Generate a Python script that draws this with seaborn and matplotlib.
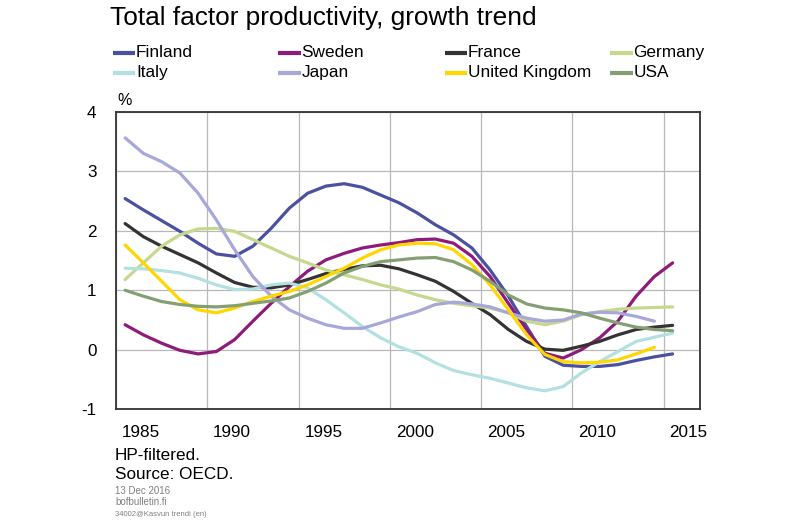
import numpy as np
import pandas as pd
import matplotlib.pyplot as plt
import matplotlib.transforms as mtransforms
from matplotlib.lines import Line2D
import seaborn as sns

sns.set_theme(style="white")
plt.rcParams['font.family'] = ['Liberation Sans', 'DejaVu Sans']
plt.rcParams['axes.unicode_minus'] = False
plt.rcParams['text.color'] = 'black'

years = list(range(1985, 2016))

finland = [2.54, 2.35, 2.17, 1.99, 1.79, 1.61, 1.57, 1.74, 2.04, 2.38, 2.63, 2.75, 2.79, 2.73, 2.60,
           2.47, 2.30, 2.10, 1.93, 1.71, 1.34, 0.90, 0.39, -0.11, -0.26, -0.28, -0.28, -0.25, -0.18, -0.12, -0.07]
sweden = [0.42, 0.25, 0.11, -0.01, -0.07, -0.03, 0.17, 0.48, 0.78, 1.06, 1.32, 1.51, 1.62, 1.71, 1.76,
          1.80, 1.85, 1.86, 1.79, 1.57, 1.23, 0.78, 0.34, -0.06, -0.14, 0.00, 0.20, 0.48, 0.90, 1.23, 1.46]
france = [2.12, 1.90, 1.74, 1.60, 1.46, 1.29, 1.13, 1.05, 1.04, 1.09, 1.18, 1.28, 1.35, 1.41, 1.42,
          1.36, 1.26, 1.15, 0.98, 0.78, 0.59, 0.34, 0.14, 0.01, -0.01, 0.06, 0.14, 0.25, 0.34, 0.38, 0.41]
germany = [1.18, 1.46, 1.74, 1.93, 2.03, 2.04, 1.99, 1.85, 1.71, 1.57, 1.46, 1.34, 1.26, 1.18, 1.09,
           1.02, 0.92, 0.84, 0.78, 0.74, 0.70, 0.62, 0.48, 0.42, 0.48, 0.59, 0.64, 0.68, 0.70, 0.71, 0.72]
italy = [1.37, 1.36, 1.33, 1.29, 1.20, 1.09, 1.01, 1.02, 1.09, 1.12, 1.04, 0.84, 0.62, 0.39, 0.20,
         0.05, -0.06, -0.22, -0.35, -0.42, -0.48, -0.56, -0.64, -0.69, -0.62, -0.39, -0.20, -0.03, 0.14, 0.21, 0.28]
japan = [3.56, 3.30, 3.16, 2.97, 2.63, 2.18, 1.68, 1.23, 0.90, 0.67, 0.53, 0.42, 0.36, 0.36, 0.45,
         0.55, 0.64, 0.76, 0.80, 0.77, 0.72, 0.62, 0.53, 0.48, 0.50, 0.60, 0.63, 0.62, 0.56, 0.48]
uk = [1.76, 1.46, 1.15, 0.84, 0.67, 0.62, 0.70, 0.81, 0.90, 0.98, 1.09, 1.23, 1.37, 1.54, 1.68,
      1.76, 1.79, 1.78, 1.68, 1.43, 1.09, 0.67, 0.25, -0.08, -0.20, -0.22, -0.21, -0.17, -0.07, 0.04]
usa = [1.00, 0.90, 0.81, 0.76, 0.73, 0.72, 0.74, 0.78, 0.82, 0.87, 0.98, 1.12, 1.29, 1.40, 1.48,
       1.51, 1.54, 1.55, 1.48, 1.34, 1.15, 0.92, 0.77, 0.70, 0.67, 0.62, 0.53, 0.45, 0.38, 0.34, 0.32]

countries = ['Finland', 'Sweden', 'France', 'Germany', 'Italy', 'Japan', 'United Kingdom', 'USA']
series = [finland, sweden, france, germany, italy, japan, uk, usa]
colors = ['#4a51a0', '#8e1b7b', '#333333', '#c6d88e', '#b3e0e0', '#a7a8d9', '#ffd600', '#84a073']
palette = dict(zip(countries, colors))

rows = []
for name, vals in zip(countries, series):
    for yr, v in zip(years, vals):
        rows.append({'year': yr + 0.5, 'value': v, 'country': name})
df = pd.DataFrame(rows)

fig = plt.figure(figsize=(8, 5.22), dpi=100)
ax = fig.add_axes([0.145, 0.216, 0.73, 0.57])

sns.lineplot(data=df, x='year', y='value', hue='country', palette=palette,
             hue_order=countries, linewidth=2.3, legend=False, ax=ax)

ax.set_xlim(1985, 2017)
ax.set_ylim(-1, 4)
ax.set_xticks(list(range(1985, 2016, 5)))
ax.set_yticks(list(range(-1, 5)))
ax.set_xlabel('')
ax.set_ylabel('')
ax.grid(True, color='#b8b8b8', lw=0.9)
for s in ax.spines.values():
    s.set_color('#333333')
    s.set_linewidth(1.3)
ax.tick_params(axis='both', length=0, labelsize=12.3, colors='black')
ax.tick_params(axis='x', pad=11)
ax.tick_params(axis='y', pad=14)

offset = mtransforms.ScaledTranslation(6 / 100, 0, fig.dpi_scale_trans)
for lbl in ax.get_xticklabels():
    lbl.set_horizontalalignment('left')
    lbl.set_transform(lbl.get_transform() + offset)

ax.text(0.002, 1.012, '%', transform=ax.transAxes, fontsize=11.5, va='bottom', ha='left')

# title
fig.text(110 / 800, 1 - 25 / 522, 'Total factor productivity, growth trend',
         fontsize=18.9, va='baseline', ha='left')

# legend (two rows of four)
col_x = [112.5, 278, 444.5, 610]
row_y = [52.5, 72.7]
for i, (name, c) in enumerate(zip(countries, colors)):
    x0 = col_x[i % 4]
    y0 = row_y[i // 4]
    fig.add_artist(Line2D([x0 / 800, (x0 + 22.5) / 800], [1 - y0 / 522, 1 - y0 / 522],
                          color=c, lw=3, solid_capstyle='butt'))
    fig.text((x0 + 23.5) / 800, 1 - y0 / 522, name, fontsize=12.4, va='center', ha='left')

# footer
fig.text(115 / 800, 1 - 460 / 522, 'HP-filtered.', fontsize=12.3, va='baseline')
fig.text(115 / 800, 1 - 479.3 / 522, 'Source: OECD.', fontsize=12.3, va='baseline')
fig.text(115 / 800, 1 - 493.5 / 522, '13 Dec 2016', fontsize=7, color='#808080', va='baseline')
fig.text(115 / 800, 1 - 505 / 522, 'bofbulletin.fi', fontsize=7, color='#808080', va='baseline')
fig.text(115 / 800, 1 - 515.5 / 522, '34002@Kasvun trendi (en)', fontsize=5.5, color='#808080', va='baseline')

fig.savefig('out.png', dpi=100)
